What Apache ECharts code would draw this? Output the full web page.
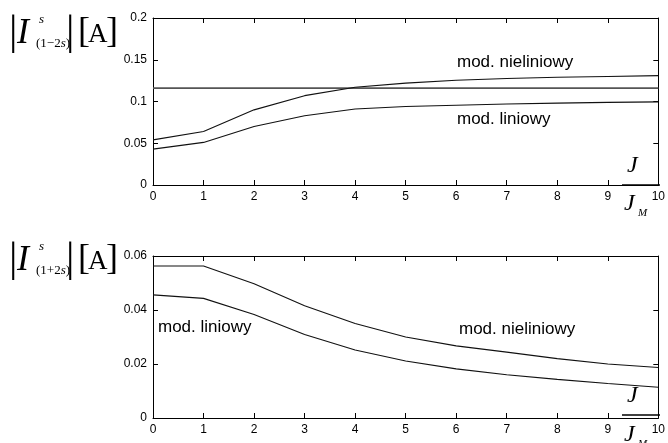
<!DOCTYPE html>
<html>
<head>
<meta charset="utf-8">
<script src="https://cdn.jsdelivr.net/npm/echarts@6/dist/echarts.min.js"></script>
<style>
html, body { margin: 0; padding: 0; background: #fff; }
#chart { width: 668px; height: 443px; }
</style>
</head>
<body>
<div id="chart"></div>
<script>
// wartosci
var jRatio = [0, 1, 2, 3, 4, 5, 6, 7, 8, 9, 10];
var topNonlin = [0.054, 0.064, 0.090, 0.107, 0.117, 0.122, 0.1255, 0.1275, 0.129, 0.130, 0.131];
var topLin = [0.043, 0.051, 0.070, 0.083, 0.091, 0.094, 0.0955, 0.097, 0.098, 0.099, 0.0995];
var topRef = 0.116;
var botNonlin = [0.0563, 0.0563, 0.0497, 0.0416, 0.035, 0.030, 0.0267, 0.0244, 0.022, 0.020, 0.0187];
var botLin = [0.0456, 0.0443, 0.0383, 0.0309, 0.0252, 0.0211, 0.0182, 0.016, 0.0143, 0.0128, 0.0114];
var labelNonlin = 'mod. nieliniowy';
var labelLin = 'mod. liniowy';

function pairs(ys) {
    return ys.map(function (y, i) { return [jRatio[i], y]; });
}

var chartDom = document.getElementById('chart');
var myChart = echarts.init(chartDom);

var tickFont = { color: '#000', fontSize: 12, fontFamily: 'Liberation Sans, Arial, sans-serif' };

function xAx(grid, pos) {
    return {
        type: 'value', gridIndex: grid, position: pos, min: 0, max: 10, interval: 1,
        axisLine: { onZero: false, lineStyle: { color: '#000', width: 1 } },
        axisTick: { inside: true, length: 5, lineStyle: { color: '#000' } },
        axisLabel: Object.assign({ show: pos === 'bottom', margin: 6 }, tickFont),
        splitLine: { show: false }
    };
}
function yAx(grid, pos, max, step) {
    return {
        type: 'value', gridIndex: grid, position: pos, min: 0, max: max, interval: step,
        axisLine: { onZero: false, lineStyle: { color: '#000', width: 1 } },
        axisTick: { inside: true, length: 5, lineStyle: { color: '#000' } },
        axisLabel: Object.assign({
            show: pos === 'left', margin: 6,
            formatter: function (v) { return String(+v.toFixed(2)); }
        }, tickFont),
        splitLine: { show: false }
    };
}

function lineSeries(x, y, data, color, width) {
    return {
        type: 'line', xAxisIndex: x, yAxisIndex: y, data: data,
        showSymbol: false, silent: true, animation: false,
        lineStyle: { color: color, width: width }
    };
}

// tytul osi y: |I^s_(1-2s)| [A]
function yTitle(top, sub) {
    var serif = 'Liberation Serif, Times New Roman, serif';
    var c = top + 35;
    function t(x, y, txt, size, italic) {
        return {
            type: 'text', left: x, top: y - size / 2,
            style: { text: txt, fontSize: size, fontFamily: serif, fontStyle: italic ? 'italic' : 'normal', fill: '#000' }
        };
    }
    return [
        t(9, c - 2, '|', 42),
        t(17, c - 1, 'I', 36, true),
        t(39, c - 15, 's', 13, true),
        {
            type: 'text', left: 36, top: c + 2,
            style: {
                text: '{n|(1' + sub + '2}{i|s}{n|)}', fontFamily: serif,
                rich: { n: { fontSize: 13, fontFamily: serif }, i: { fontSize: 13, fontFamily: serif, fontStyle: 'italic' } }
            }
        },
        t(66, c - 2, '|', 42),
        t(78, c - 2, '[', 36),
        t(88, c, 'A', 27),
        t(106, c - 2, ']', 36)
    ];
}

// ulamek J / J_M przy osi x
function fraction(jTop, barY, jmTop) {
    var serif = 'Liberation Serif, Times New Roman, serif';
    return [
        { type: 'text', left: 627, top: jTop, style: { text: 'J', fontSize: 24, fontFamily: serif, fontStyle: 'italic', fill: '#000' } },
        { type: 'line', shape: { x1: 622, y1: barY, x2: 660, y2: barY }, style: { stroke: '#000', lineWidth: 1.5 } },
        { type: 'text', left: 624, top: jmTop, style: { text: 'J', fontSize: 24, fontFamily: serif, fontStyle: 'italic', fill: '#000' } },
        { type: 'text', left: 638, top: jmTop + 16, style: { text: 'M', fontSize: 11, fontFamily: serif, fontStyle: 'italic', fill: '#000' } }
    ];
}

function note(x, y, txt) {
    return {
        type: 'text', left: x, top: y - 9,
        style: { text: txt, fontSize: 17, fontFamily: 'Liberation Sans, Arial, sans-serif', fill: '#000' }
    };
}

var option = {
    animation: false,
    backgroundColor: '#fff',
    grid: [
        { left: 153, right: 7, top: 18, height: 167 },
        { left: 153, right: 7, top: 256, height: 162 }
    ],
    xAxis: [xAx(0, 'bottom'), xAx(0, 'top'), xAx(1, 'bottom'), xAx(1, 'top')],
    yAxis: [yAx(0, 'left', 0.2, 0.05), yAx(0, 'right', 0.2, 0.05), yAx(1, 'left', 0.06, 0.02), yAx(1, 'right', 0.06, 0.02)],
    series: [
        lineSeries(0, 0, [[0, topRef], [10, topRef]], '#555', 1.6),
        lineSeries(0, 0, pairs(topNonlin), '#111', 1.1),
        lineSeries(0, 0, pairs(topLin), '#111', 1.1),
        lineSeries(2, 2, pairs(botNonlin), '#111', 1.1),
        lineSeries(2, 2, pairs(botLin), '#111', 1.1)
    ],
    graphic: [].concat(
        yTitle(0, '\u2212'),
        yTitle(227, '+'),
        fraction(154, 185, 192),
        fraction(384, 415, 423),
        [
            note(457, 63, labelNonlin),
            note(457, 120, labelLin),
            note(158, 328, labelLin),
            note(459, 330, labelNonlin)
        ]
    )
};

option && myChart.setOption(option);
</script>
</body>
</html>
